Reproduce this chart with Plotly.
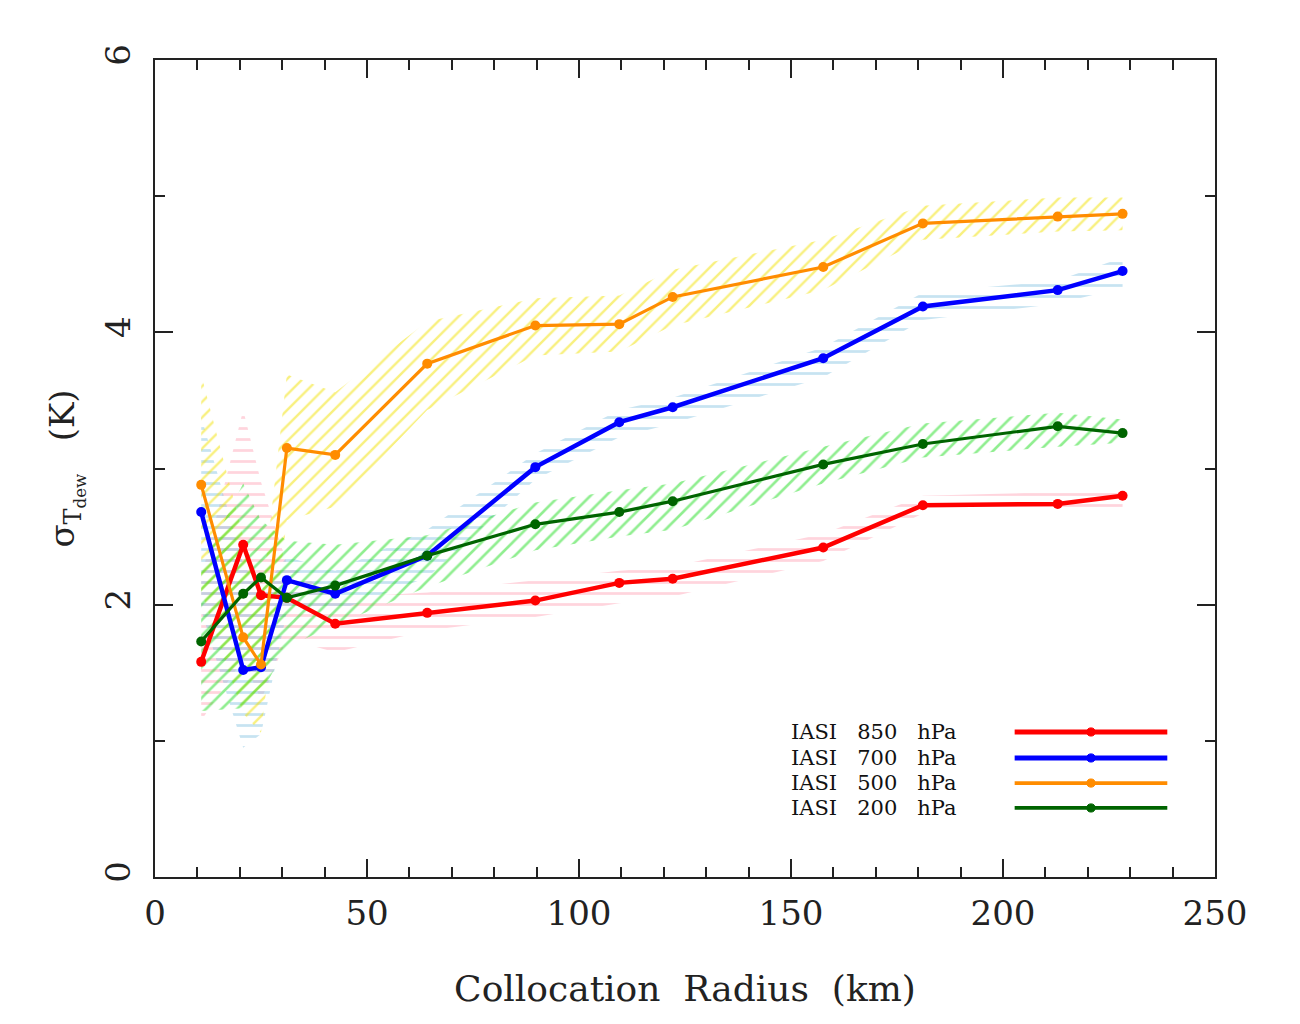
import plotly.graph_objects as go

# ---- data -------------------------------------------------------------
radius = [10.9, 20.8, 25.0, 31.1, 42.5, 64.2, 89.7, 109.5, 122.1, 157.6, 181.1, 212.9, 228.2]

t850 = [1.58, 2.44, 2.07, 2.05, 1.86, 1.94, 2.03, 2.16, 2.19, 2.42, 2.73, 2.74, 2.80]
t700 = [2.68, 1.52, 1.54, 2.18, 2.08, 2.36, 3.01, 3.34, 3.45, 3.81, 4.19, 4.31, 4.45]
t500 = [2.88, 1.76, 1.56, 3.15, 3.10, 3.77, 4.05, 4.06, 4.26, 4.48, 4.80, 4.85, 4.87]
t200 = [1.73, 2.08, 2.20, 2.05, 2.14, 2.36, 2.59, 2.68, 2.76, 3.03, 3.18, 3.31, 3.26]

# uncertainty bands (upper / lower)
up850 = [2.20, 3.43, 2.90, 2.30, 2.05, 2.09, 2.18, 2.25, 2.28, 2.52, 2.80, 2.83, 2.84]
lo850 = [1.15, 1.60, 1.30, 1.75, 1.65, 1.81, 1.91, 2.01, 2.06, 2.32, 2.67, 2.67, 2.71]
up700 = [3.38, 2.30, 2.10, 2.35, 2.25, 2.55, 3.11, 3.43, 3.52, 3.89, 4.29, 4.38, 4.55]
lo700 = [1.96, 0.95, 1.05, 1.95, 1.95, 2.20, 2.92, 3.23, 3.33, 3.67, 4.09, 4.21, 4.33]
up500 = [3.69, 2.50, 2.00, 3.69, 3.56, 4.08, 4.25, 4.27, 4.46, 4.68, 4.93, 4.99, 4.99]
lo500 = [2.10, 1.20, 1.06, 2.62, 2.72, 3.43, 3.83, 3.86, 4.05, 4.31, 4.68, 4.74, 4.75]
up200 = [2.28, 2.89, 2.62, 2.47, 2.44, 2.51, 2.75, 2.84, 2.89, 3.16, 3.33, 3.41, 3.36]
lo200 = [1.22, 1.24, 1.35, 1.69, 1.85, 2.13, 2.40, 2.50, 2.55, 2.89, 3.08, 3.16, 3.19]

labels = ["IASI 850 hPa", "IASI 700 hPa", "IASI 500 hPa", "IASI 200 hPa"]
x_ticks = [0, 50, 100, 150, 200, 250]
y_ticks = [0, 2, 4, 6]

# ---- styles -----------------------------------------------------------
series = [
    (t850, up850, lo850, "#ff0000", "#ffaabb", "-", 4.5, 10, 0.25),
    (t700, up700, lo700, "#0000ff", "#90c8e4", "-", 4.5, 10, 0.25),
    (t500, up500, lo500, "#ff8c00", "#f2e200", "/", 3.2, 10, 0.22),
    (t200, up200, lo200, "#006400", "#22dd22", "/", 3.2, 10, 0.24),
]

FONT = "DejaVu Serif"
fig = go.Figure()

# hatched bands
for vals, up, lo, col, bcol, shape, lw, ms, sol in series:
    fig.add_trace(go.Scatter(
        x=radius + radius[::-1],
        y=up + lo[::-1],
        mode="lines", line=dict(width=0),
        fill="toself", fillcolor="rgba(0,0,0,0)",
        fillpattern=dict(shape=shape, fgcolor=bcol, bgcolor="rgba(0,0,0,0)",
                         size=11, solidity=sol, fillmode="overlay"),
        hoverinfo="skip", showlegend=False,
    ))

# lines
for (vals, up, lo, col, bcol, shape, lw, ms, sol), name in zip(series, labels):
    fig.add_trace(go.Scatter(
        x=radius, y=vals, mode="lines+markers", name=name,
        line=dict(color=col, width=lw),
        marker=dict(color=col, size=ms, symbol="circle"),
        showlegend=False,
    ))

# custom legend (text left, line sample right)
leg_y = [0.1775, 0.1457, 0.1150, 0.0845]
for (vals, up, lo, col, bcol, shape, lw, ms, sol), name, yy in zip(series, labels, leg_y):
    fig.add_annotation(
        x=0.598, y=yy, xref="paper", yref="paper", xanchor="left", yanchor="middle",
        text=name.replace(" ", "\u00a0\u00a0\u00a0"), showarrow=False,
        font=dict(family=FONT, size=21, color="#111"),
    )
    fig.add_shape(type="line", xref="paper", yref="paper",
                  x0=0.811, x1=0.955, y0=yy, y1=yy,
                  line=dict(color=col, width=lw + 0.5))
    fig.add_shape(type="circle", xref="paper", yref="paper",
                  x0=0.883 - 0.0038, x1=0.883 + 0.0038,
                  y0=yy - 0.005, y1=yy + 0.005,
                  fillcolor=col, line=dict(color=col, width=1))

axis_common = dict(
    showline=True, linecolor="#222", linewidth=2, mirror="ticks",
    ticks="inside", ticklen=18, tickwidth=2, tickcolor="#222",
    showgrid=False, zeroline=False,
    tickfont=dict(family=FONT, size=34, color="#222"),
)

fig.update_xaxes(
    range=[0, 250], tickvals=x_ticks, ticktext=[str(v) for v in x_ticks],
    minor=dict(ticks="inside", dtick=10, ticklen=10, tickwidth=2, tickcolor="#222"),
    title=dict(text="Collocation\u00a0\u00a0Radius\u00a0\u00a0(km)",
               font=dict(family=FONT, size=36, color="#222"), standoff=44),
    ticklabelstandoff=5,
    **axis_common,
)
fig.update_yaxes(
    range=[0, 6], tickvals=y_ticks, ticktext=[str(v) for v in y_ticks],
    tickangle=-90,
    minor=dict(ticks="inside", dtick=1, ticklen=10, tickwidth=2, tickcolor="#222"),
    title=dict(text="σ<sub>T<sub>dew</sub></sub>\u00a0\u00a0\u00a0(K)",
               font=dict(family=FONT, size=34, color="#222"), standoff=14),
    ticklabelstandoff=9,
    **axis_common,
)

fig.update_layout(
    width=1300, height=1024,
    margin=dict(l=147, r=93, t=52, b=155),
    paper_bgcolor="white", plot_bgcolor="white",
    showlegend=False,
)

fig.write_html("out.html")
